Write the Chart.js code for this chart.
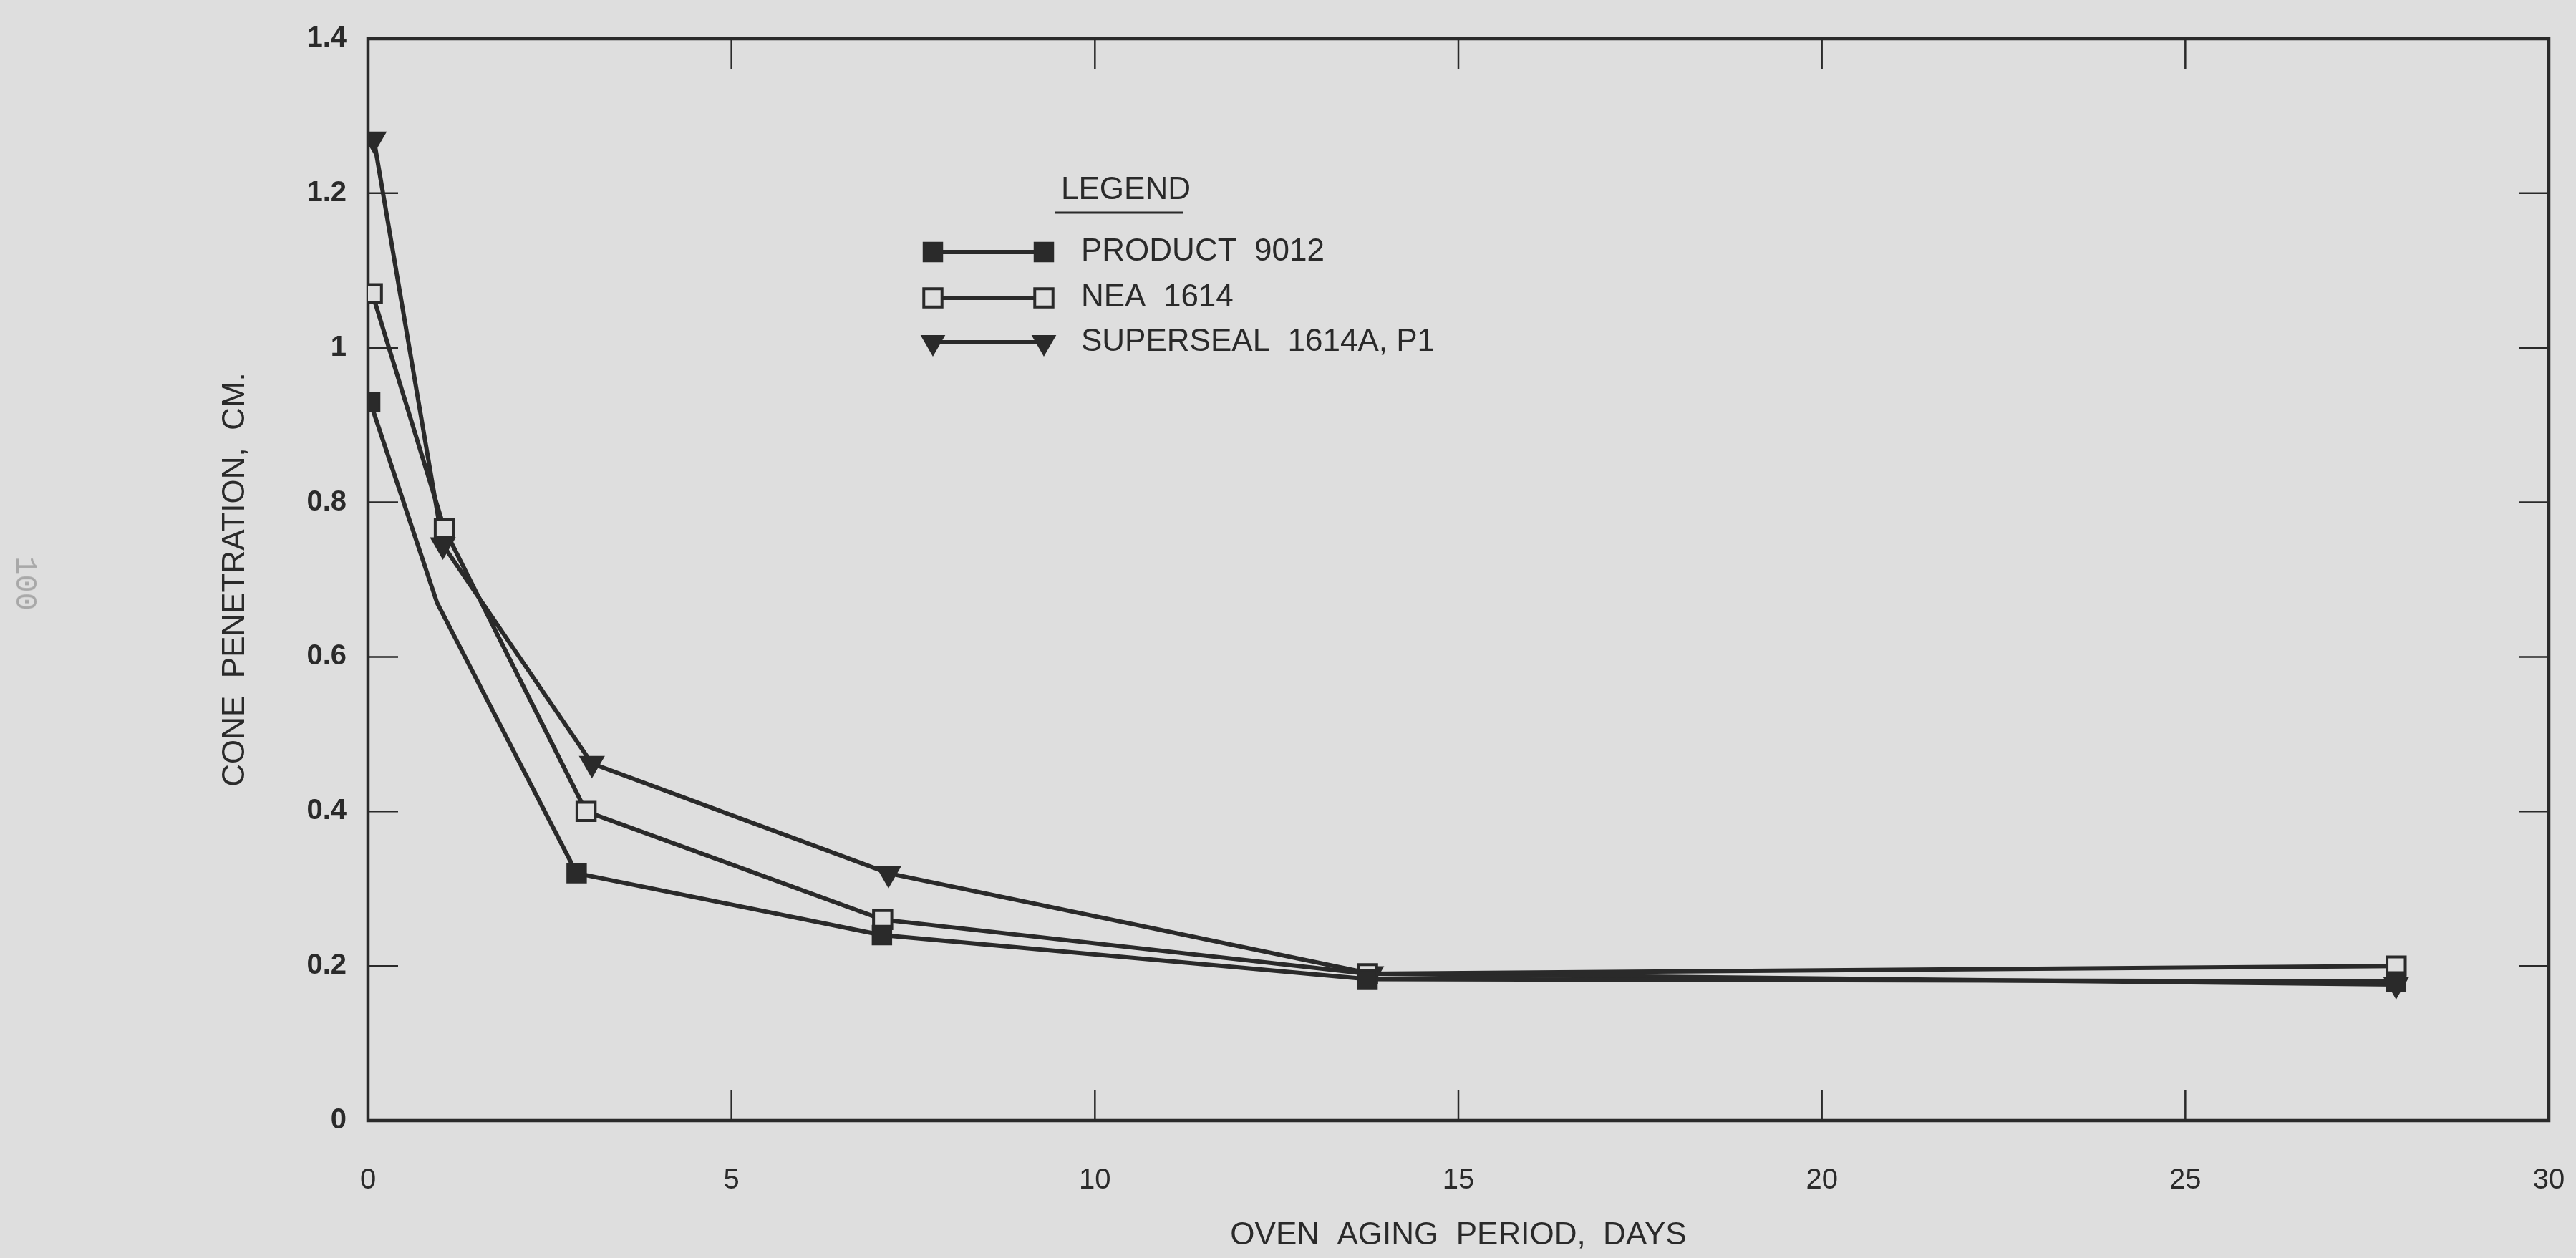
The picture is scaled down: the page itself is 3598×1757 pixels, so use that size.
<!DOCTYPE html>
<html>
<head>
<meta charset="utf-8">
<title>Cone penetration vs oven aging</title>
<script src="https://cdn.jsdelivr.net/npm/chart.js@4.4.1/dist/chart.umd.min.js"></script>
<style>
  html, body { margin: 0; padding: 0; background: #dedede; }
  #wrap { position: relative; width: 3598px; height: 1757px; }
  #pagina {
    position: absolute; left: 34px; top: 815px;
    transform: translate(-50%, -50%) rotate(90deg);
    font: 42px "Liberation Mono", monospace; color: #a8a8a8;
  }
</style>
</head>
<body>
<div id="wrap">
  <canvas id="grafico" width="3598" height="1757"></canvas>
  <div id="pagina">100</div>
</div>
<script>
// Datos
const series = ['PRODUCT  9012', 'NEA  1614', 'SUPERSEAL  1614A, P1'];
const diasProducto = [0.03, 0.95, 2.87, 7.07, 13.75, 27.9];
const conoProducto = [0.93, 0.67, 0.32, 0.24, 0.183, 0.18];
const diasNea = [0.06, 1.05, 3.0, 7.08, 13.75, 27.9];
const conoNea = [1.07, 0.766, 0.40, 0.26, 0.19, 0.20];
const diasSuperseal = [0.08, 1.03, 3.08, 7.16, 13.8, 27.9];
const conoSuperseal = [1.27, 0.745, 0.462, 0.32, 0.19, 0.176];
const ticksX = [0, 5, 10, 15, 20, 25, 30];
const ticksY = [0, 0.2, 0.4, 0.6, 0.8, 1, 1.2, 1.4];
const tituloX = 'OVEN  AGING  PERIOD,  DAYS';
const tituloY = 'CONE  PENETRATION,  CM.';

// Estilos
const tinta = '#2a2a2a';
const fondo = '#dedede';
const letra = '"Liberation Sans", Arial, sans-serif';
const largoTick = 42;

function puntos(xs, ys) {
    return xs.map((x, i) => ({ x: x, y: ys[i] }));
}

const estilosSerie = [
    { pointStyle: 'rect', pointRadius: [18, 0, 18, 18, 18, 18], pointBackgroundColor: tinta, pointBorderWidth: 3, pointRotation: 0 },
    { pointStyle: 'rect', pointRadius: 18, pointBackgroundColor: fondo, pointBorderWidth: 4, pointRotation: 0 },
    { pointStyle: 'triangle', pointRadius: 19, pointBackgroundColor: tinta, pointBorderWidth: 2, pointRotation: 180 }
];
const datosSerie = [
    puntos(diasProducto, conoProducto),
    puntos(diasNea, conoNea),
    puntos(diasSuperseal, conoSuperseal)
];

// Marco del grafico con marcas hacia dentro
const marco = {
    id: 'marco',
    beforeDatasetsDraw(chart) {
        const { ctx, chartArea: a, scales } = chart;
        ctx.save();
        ctx.strokeStyle = tinta;
        ctx.lineWidth = 4.5;
        ctx.strokeRect(a.left, a.top, a.right - a.left, a.bottom - a.top);
        ctx.lineWidth = 2.5;
        ctx.beginPath();
        ticksX.slice(1, -1).forEach(v => {
            const px = scales.x.getPixelForValue(v);
            ctx.moveTo(px, a.bottom); ctx.lineTo(px, a.bottom - largoTick);
            ctx.moveTo(px, a.top); ctx.lineTo(px, a.top + largoTick);
        });
        ticksY.slice(1, -1).forEach(v => {
            const py = scales.y.getPixelForValue(v);
            ctx.moveTo(a.left, py); ctx.lineTo(a.left + largoTick, py);
            ctx.moveTo(a.right, py); ctx.lineTo(a.right - largoTick, py);
        });
        ctx.stroke();
        ctx.restore();
    }
};

// Leyenda dibujada a mano: marca, linea, marca y texto
const leyenda = {
    id: 'leyenda',
    afterDraw(chart) {
        const ctx = chart.ctx;
        const x1 = 1303, x2 = 1458, xTexto = 1510;
        const filas = [352, 416, 478];
        ctx.save();
        ctx.fillStyle = tinta;
        ctx.strokeStyle = tinta;
        ctx.font = '44px ' + letra;
        ctx.textBaseline = 'middle';
        ctx.fillText('LEGEND', 1482, 266);
        ctx.lineWidth = 3;
        ctx.beginPath();
        ctx.moveTo(1474, 297); ctx.lineTo(1652, 297);
        ctx.stroke();
        filas.forEach((y, i) => {
            const e = estilosSerie[i];
            ctx.lineWidth = 6;
            ctx.beginPath();
            ctx.moveTo(x1, y); ctx.lineTo(x2, y);
            ctx.stroke();
            [x1, x2].forEach(x => {
                ctx.fillStyle = e.pointBackgroundColor;
                ctx.lineWidth = e.pointBorderWidth;
                Chart.helpers.drawPoint(ctx, {
                    pointStyle: e.pointStyle,
                    radius: 18,
                    rotation: e.pointRotation,
                    borderWidth: e.pointBorderWidth
                }, x, y);
            });
            ctx.fillStyle = tinta;
            ctx.fillText(series[i], xTexto, y);
        });
        ctx.restore();
    }
};

new Chart(document.getElementById('grafico'), {
    type: 'line',
    data: {
        datasets: series.map((nombre, i) => Object.assign({
            label: nombre,
            data: datosSerie[i],
            borderColor: tinta,
            borderWidth: 6,
            pointBorderColor: tinta,
            fill: false,
            tension: 0
        }, estilosSerie[i]))
    },
    options: {
        responsive: false,
        animation: false,
        devicePixelRatio: 1,
        layout: { padding: { top: 34, right: 38, left: 0, bottom: 0 } },
        plugins: {
            legend: { display: false },
            tooltip: { enabled: false }
        },
        scales: {
            x: {
                type: 'linear',
                min: 0,
                max: 30,
                afterBuildTicks: s => { s.ticks = ticksX.map(v => ({ value: v })); },
                afterFit: s => { s.height = 192; },
                // marcas invisibles solo para bajar las etiquetas
                grid: { display: true, drawOnChartArea: false, drawTicks: true, tickLength: 52, color: 'rgba(0,0,0,0)' },
                border: { display: false },
                ticks: { color: tinta, font: { family: letra, size: 40 }, padding: 8, maxRotation: 0 },
                title: { display: true, text: tituloX, color: tinta, font: { family: letra, size: 44 }, padding: { top: 0, bottom: 5 } }
            },
            y: {
                min: 0,
                max: 1.4,
                afterBuildTicks: s => { s.ticks = ticksY.map(v => ({ value: v })); },
                afterFit: s => { s.width = 514; },
                grid: { display: false, drawTicks: false },
                border: { display: false },
                ticks: { color: tinta, font: { family: letra, size: 40, weight: 'bold' }, padding: 30, callback: v => String(+v.toFixed(1)) },
                title: { display: true, text: tituloY, color: tinta, font: { family: letra, size: 44 }, padding: { top: 302, bottom: 0 } }
            }
        }
    },
    plugins: [marco, leyenda]
});
</script>
</body>
</html>
